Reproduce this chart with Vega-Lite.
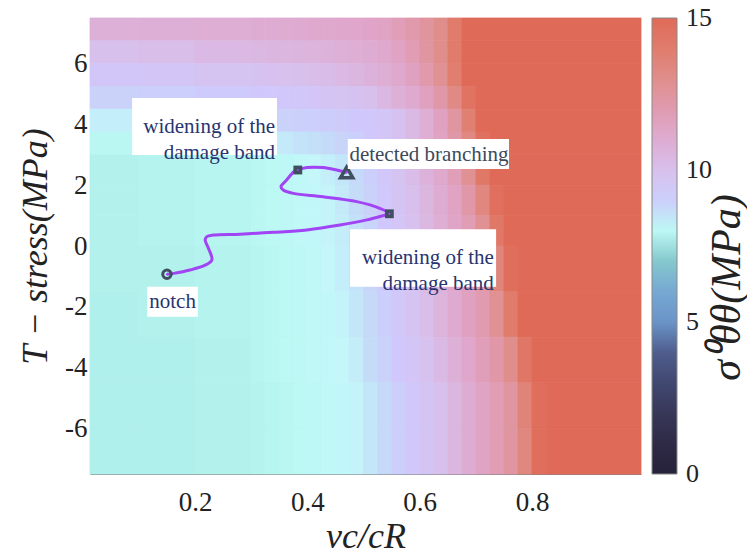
{
"$schema":"https://vega.github.io/schema/vega-lite/v6.json",
"width":551,"height":456,
"autosize":{"type":"none"},
"padding":{"left":90,"top":18,"right":106,"bottom":83},
"config":{"font":"Liberation Serif","view":{"stroke":null}},
"datasets":{
"path":[
{"i":0,"x":0.150,"y":-0.93},{"i":1,"x":0.162,"y":-0.90},{"i":2,"x":0.191,"y":-0.79},{"i":3,"x":0.218,"y":-0.63},{"i":4,"x":0.230,"y":-0.46},{"i":5,"x":0.224,"y":-0.08},{"i":6,"x":0.218,"y":0.20},{"i":7,"x":0.221,"y":0.31},{"i":8,"x":0.233,"y":0.36},{"i":9,"x":0.280,"y":0.39},{"i":10,"x":0.340,"y":0.45},{"i":11,"x":0.399,"y":0.53},{"i":12,"x":0.458,"y":0.69},{"i":13,"x":0.506,"y":0.86},{"i":14,"x":0.535,"y":1.00},{"i":15,"x":0.546,"y":1.06},{"i":16,"x":0.529,"y":1.24},{"i":17,"x":0.488,"y":1.46},{"i":18,"x":0.428,"y":1.62},{"i":19,"x":0.375,"y":1.73},{"i":20,"x":0.357,"y":1.84},{"i":21,"x":0.353,"y":1.95},{"i":22,"x":0.363,"y":2.17},{"i":23,"x":0.376,"y":2.44},{"i":24,"x":0.383,"y":2.50},{"i":25,"x":0.399,"y":2.58},{"i":26,"x":0.428,"y":2.58},{"i":27,"x":0.452,"y":2.50},{"i":28,"x":0.470,"y":2.42}
],
"markers":[
{"kind":"notch","x":0.150,"y":-0.93},{"kind":"widen","x":0.383,"y":2.50},{"kind":"widen","x":0.546,"y":1.06},{"kind":"branch","x":0.470,"y":2.42}
],
"notes":[
{"t":"widening of the\ndamage band","kind":"r","tx":0.3425,"ty":3.91,"bx0":0.088,"bx1":0.346,"by0":2.99,"by1":4.87},
{"t":"detected branching","kind":"c","tx":0.6165,"ty":2.99,"bx0":0.472,"bx1":0.759,"by0":2.53,"by1":3.52},
{"t":"widening of the\ndamage band","kind":"r","tx":0.732,"ty":-0.41,"bx0":0.476,"bx1":0.736,"by0":-1.34,"by1":0.55},
{"t":"notch","kind":"c","tx":0.160,"ty":-1.84,"bx0":0.115,"bx1":0.205,"by0":-2.33,"by1":-1.34}
]
},
"layer":[
{"data":{"values":[
{"x0":0.013,"x1":0.1,"y0":6.75,"y1":7.5,"v":10.8},{"x0":0.1,"x1":0.2,"y0":6.75,"y1":7.5,"v":10.85},{"x0":0.2,"x1":0.3,"y0":6.75,"y1":7.5,"v":10.9},
{"x0":0.3,"x1":0.325,"y0":6.75,"y1":7.5,"v":11.0},{"x0":0.325,"x1":0.35,"y0":6.75,"y1":7.5,"v":11.0},{"x0":0.35,"x1":0.375,"y0":6.75,"y1":7.5,"v":11.05},{"x0":0.375,"x1":0.4,"y0":6.75,"y1":7.5,"v":11.1},{"x0":0.4,"x1":0.425,"y0":6.75,"y1":7.5,"v":11.15},{"x0":0.425,"x1":0.45,"y0":6.75,"y1":7.5,"v":11.2},{"x0":0.45,"x1":0.475,"y0":6.75,"y1":7.5,"v":11.25},{"x0":0.475,"x1":0.5,"y0":6.75,"y1":7.5,"v":11.3},{"x0":0.5,"x1":0.525,"y0":6.75,"y1":7.5,"v":11.4},{"x0":0.525,"x1":0.55,"y0":6.75,"y1":7.5,"v":11.5},{"x0":0.55,"x1":0.575,"y0":6.75,"y1":7.5,"v":11.8},{"x0":0.575,"x1":0.6,"y0":6.75,"y1":7.5,"v":12.1},{"x0":0.6,"x1":0.625,"y0":6.75,"y1":7.5,"v":12.5},{"x0":0.625,"x1":0.65,"y0":6.75,"y1":7.5,"v":13.0},{"x0":0.65,"x1":0.675,"y0":6.75,"y1":7.5,"v":14.0},{"x0":0.675,"x1":0.994,"y0":6.75,"y1":7.5,"v":15},

{"x0":0.013,"x1":0.1,"y0":6,"y1":6.75,"v":10.0},{"x0":0.1,"x1":0.2,"y0":6,"y1":6.75,"v":10.1},{"x0":0.2,"x1":0.3,"y0":6,"y1":6.75,"v":10.3},
{"x0":0.3,"x1":0.325,"y0":6,"y1":6.75,"v":10.4},{"x0":0.325,"x1":0.35,"y0":6,"y1":6.75,"v":10.45},{"x0":0.35,"x1":0.375,"y0":6,"y1":6.75,"v":10.5},{"x0":0.375,"x1":0.4,"y0":6,"y1":6.75,"v":10.55},{"x0":0.4,"x1":0.425,"y0":6,"y1":6.75,"v":10.6},{"x0":0.425,"x1":0.45,"y0":6,"y1":6.75,"v":10.7},{"x0":0.45,"x1":0.475,"y0":6,"y1":6.75,"v":10.8},{"x0":0.475,"x1":0.5,"y0":6,"y1":6.75,"v":10.9},{"x0":0.5,"x1":0.525,"y0":6,"y1":6.75,"v":11.0},{"x0":0.525,"x1":0.55,"y0":6,"y1":6.75,"v":11.2},{"x0":0.55,"x1":0.575,"y0":6,"y1":6.75,"v":11.5},{"x0":0.575,"x1":0.6,"y0":6,"y1":6.75,"v":11.9},{"x0":0.6,"x1":0.625,"y0":6,"y1":6.75,"v":12.4},{"x0":0.625,"x1":0.65,"y0":6,"y1":6.75,"v":13.0},{"x0":0.65,"x1":0.675,"y0":6,"y1":6.75,"v":14.0},{"x0":0.675,"x1":0.994,"y0":6,"y1":6.75,"v":15},

{"x0":0.013,"x1":0.1,"y0":5.25,"y1":6,"v":9.4},{"x0":0.1,"x1":0.2,"y0":5.25,"y1":6,"v":9.5},{"x0":0.2,"x1":0.3,"y0":5.25,"y1":6,"v":9.7},
{"x0":0.3,"x1":0.325,"y0":5.25,"y1":6,"v":9.8},{"x0":0.325,"x1":0.35,"y0":5.25,"y1":6,"v":9.9},{"x0":0.35,"x1":0.375,"y0":5.25,"y1":6,"v":9.95},{"x0":0.375,"x1":0.4,"y0":5.25,"y1":6,"v":10.0},{"x0":0.4,"x1":0.425,"y0":5.25,"y1":6,"v":10.1},{"x0":0.425,"x1":0.45,"y0":5.25,"y1":6,"v":10.2},{"x0":0.45,"x1":0.475,"y0":5.25,"y1":6,"v":10.3},{"x0":0.475,"x1":0.5,"y0":5.25,"y1":6,"v":10.5},{"x0":0.5,"x1":0.525,"y0":5.25,"y1":6,"v":10.7},{"x0":0.525,"x1":0.55,"y0":5.25,"y1":6,"v":10.9},{"x0":0.55,"x1":0.575,"y0":5.25,"y1":6,"v":11.2},{"x0":0.575,"x1":0.6,"y0":5.25,"y1":6,"v":11.6},{"x0":0.6,"x1":0.625,"y0":5.25,"y1":6,"v":12.1},{"x0":0.625,"x1":0.65,"y0":5.25,"y1":6,"v":12.8},{"x0":0.65,"x1":0.675,"y0":5.25,"y1":6,"v":13.9},{"x0":0.675,"x1":0.994,"y0":5.25,"y1":6,"v":15},

{"x0":0.013,"x1":0.1,"y0":4.5,"y1":5.25,"v":8.9},{"x0":0.1,"x1":0.2,"y0":4.5,"y1":5.25,"v":9.0},{"x0":0.2,"x1":0.3,"y0":4.5,"y1":5.25,"v":9.15},
{"x0":0.3,"x1":0.325,"y0":4.5,"y1":5.25,"v":9.2},{"x0":0.325,"x1":0.35,"y0":4.5,"y1":5.25,"v":9.25},{"x0":0.35,"x1":0.375,"y0":4.5,"y1":5.25,"v":9.3},{"x0":0.375,"x1":0.4,"y0":4.5,"y1":5.25,"v":9.35},{"x0":0.4,"x1":0.425,"y0":4.5,"y1":5.25,"v":9.45},{"x0":0.425,"x1":0.45,"y0":4.5,"y1":5.25,"v":9.6},{"x0":0.45,"x1":0.475,"y0":4.5,"y1":5.25,"v":9.7},{"x0":0.475,"x1":0.5,"y0":4.5,"y1":5.25,"v":9.8},{"x0":0.5,"x1":0.525,"y0":4.5,"y1":5.25,"v":10.0},{"x0":0.525,"x1":0.55,"y0":4.5,"y1":5.25,"v":10.4},{"x0":0.55,"x1":0.575,"y0":4.5,"y1":5.25,"v":10.8},{"x0":0.575,"x1":0.6,"y0":4.5,"y1":5.25,"v":11.1},{"x0":0.6,"x1":0.625,"y0":4.5,"y1":5.25,"v":11.6},{"x0":0.625,"x1":0.65,"y0":4.5,"y1":5.25,"v":12.2},{"x0":0.65,"x1":0.675,"y0":4.5,"y1":5.25,"v":13.2},{"x0":0.675,"x1":0.7,"y0":4.5,"y1":5.25,"v":14.5},{"x0":0.7,"x1":0.994,"y0":4.5,"y1":5.25,"v":15},

{"x0":0.013,"x1":0.1,"y0":3.75,"y1":4.5,"v":8.3},{"x0":0.1,"x1":0.2,"y0":3.75,"y1":4.5,"v":8.6},{"x0":0.2,"x1":0.3,"y0":3.75,"y1":4.5,"v":8.8},
{"x0":0.3,"x1":0.325,"y0":3.75,"y1":4.5,"v":8.85},{"x0":0.325,"x1":0.35,"y0":3.75,"y1":4.5,"v":8.9},{"x0":0.35,"x1":0.375,"y0":3.75,"y1":4.5,"v":8.9},{"x0":0.375,"x1":0.4,"y0":3.75,"y1":4.5,"v":8.95},{"x0":0.4,"x1":0.425,"y0":3.75,"y1":4.5,"v":9.0},{"x0":0.425,"x1":0.45,"y0":3.75,"y1":4.5,"v":9.05},{"x0":0.45,"x1":0.475,"y0":3.75,"y1":4.5,"v":9.1},{"x0":0.475,"x1":0.5,"y0":3.75,"y1":4.5,"v":9.2},{"x0":0.5,"x1":0.525,"y0":3.75,"y1":4.5,"v":9.3},{"x0":0.525,"x1":0.55,"y0":3.75,"y1":4.5,"v":9.5},{"x0":0.55,"x1":0.575,"y0":3.75,"y1":4.5,"v":9.8},{"x0":0.575,"x1":0.6,"y0":3.75,"y1":4.5,"v":10.3},{"x0":0.6,"x1":0.625,"y0":3.75,"y1":4.5,"v":10.9},{"x0":0.625,"x1":0.65,"y0":3.75,"y1":4.5,"v":11.6},{"x0":0.65,"x1":0.675,"y0":3.75,"y1":4.5,"v":12.4},{"x0":0.675,"x1":0.7,"y0":3.75,"y1":4.5,"v":13.8},{"x0":0.7,"x1":0.994,"y0":3.75,"y1":4.5,"v":15},

{"x0":0.013,"x1":0.1,"y0":3,"y1":3.75,"v":7.95},{"x0":0.1,"x1":0.2,"y0":3,"y1":3.75,"v":8.0},{"x0":0.2,"x1":0.3,"y0":3,"y1":3.75,"v":8.1},
{"x0":0.3,"x1":0.325,"y0":3,"y1":3.75,"v":8.3},{"x0":0.325,"x1":0.35,"y0":3,"y1":3.75,"v":8.35},{"x0":0.35,"x1":0.375,"y0":3,"y1":3.75,"v":8.4},{"x0":0.375,"x1":0.4,"y0":3,"y1":3.75,"v":8.5},{"x0":0.4,"x1":0.425,"y0":3,"y1":3.75,"v":8.55},{"x0":0.425,"x1":0.45,"y0":3,"y1":3.75,"v":8.65},{"x0":0.45,"x1":0.475,"y0":3,"y1":3.75,"v":8.8},{"x0":0.475,"x1":0.5,"y0":3,"y1":3.75,"v":9.0},{"x0":0.5,"x1":0.525,"y0":3,"y1":3.75,"v":9.2},{"x0":0.525,"x1":0.55,"y0":3,"y1":3.75,"v":9.45},{"x0":0.55,"x1":0.575,"y0":3,"y1":3.75,"v":9.8},{"x0":0.575,"x1":0.6,"y0":3,"y1":3.75,"v":10.3},{"x0":0.6,"x1":0.625,"y0":3,"y1":3.75,"v":10.9},{"x0":0.625,"x1":0.65,"y0":3,"y1":3.75,"v":11.5},{"x0":0.65,"x1":0.675,"y0":3,"y1":3.75,"v":12.2},{"x0":0.675,"x1":0.7,"y0":3,"y1":3.75,"v":13.3},{"x0":0.7,"x1":0.725,"y0":3,"y1":3.75,"v":14.6},{"x0":0.725,"x1":0.994,"y0":3,"y1":3.75,"v":15},

{"x0":0.013,"x1":0.1,"y0":2,"y1":3,"v":7.8},{"x0":0.1,"x1":0.2,"y0":2,"y1":3,"v":7.85},{"x0":0.2,"x1":0.3,"y0":2,"y1":3,"v":7.9},
{"x0":0.3,"x1":0.325,"y0":2,"y1":3,"v":7.95},{"x0":0.325,"x1":0.35,"y0":2,"y1":3,"v":8.0},{"x0":0.35,"x1":0.375,"y0":2,"y1":3,"v":8.05},{"x0":0.375,"x1":0.4,"y0":2,"y1":3,"v":8.1},{"x0":0.4,"x1":0.425,"y0":2,"y1":3,"v":8.2},{"x0":0.425,"x1":0.45,"y0":2,"y1":3,"v":8.3},{"x0":0.45,"x1":0.475,"y0":2,"y1":3,"v":8.45},{"x0":0.475,"x1":0.5,"y0":2,"y1":3,"v":8.65},{"x0":0.5,"x1":0.525,"y0":2,"y1":3,"v":9.0},{"x0":0.525,"x1":0.55,"y0":2,"y1":3,"v":9.3},{"x0":0.55,"x1":0.575,"y0":2,"y1":3,"v":9.7},{"x0":0.575,"x1":0.6,"y0":2,"y1":3,"v":10.2},{"x0":0.6,"x1":0.625,"y0":2,"y1":3,"v":10.7},{"x0":0.625,"x1":0.65,"y0":2,"y1":3,"v":11.2},{"x0":0.65,"x1":0.675,"y0":2,"y1":3,"v":11.8},{"x0":0.675,"x1":0.7,"y0":2,"y1":3,"v":12.8},{"x0":0.7,"x1":0.725,"y0":2,"y1":3,"v":14.2},{"x0":0.725,"x1":0.994,"y0":2,"y1":3,"v":15},

{"x0":0.013,"x1":0.1,"y0":1,"y1":2,"v":7.8},{"x0":0.1,"x1":0.2,"y0":1,"y1":2,"v":7.85},{"x0":0.2,"x1":0.3,"y0":1,"y1":2,"v":7.9},
{"x0":0.3,"x1":0.325,"y0":1,"y1":2,"v":7.95},{"x0":0.325,"x1":0.35,"y0":1,"y1":2,"v":8.0},{"x0":0.35,"x1":0.375,"y0":1,"y1":2,"v":8.05},{"x0":0.375,"x1":0.4,"y0":1,"y1":2,"v":8.1},{"x0":0.4,"x1":0.425,"y0":1,"y1":2,"v":8.15},{"x0":0.425,"x1":0.45,"y0":1,"y1":2,"v":8.25},{"x0":0.45,"x1":0.475,"y0":1,"y1":2,"v":8.4},{"x0":0.475,"x1":0.5,"y0":1,"y1":2,"v":8.6},{"x0":0.5,"x1":0.525,"y0":1,"y1":2,"v":8.9},{"x0":0.525,"x1":0.55,"y0":1,"y1":2,"v":9.25},{"x0":0.55,"x1":0.575,"y0":1,"y1":2,"v":9.6},{"x0":0.575,"x1":0.6,"y0":1,"y1":2,"v":10.0},{"x0":0.6,"x1":0.625,"y0":1,"y1":2,"v":10.5},{"x0":0.625,"x1":0.65,"y0":1,"y1":2,"v":11.0},{"x0":0.65,"x1":0.675,"y0":1,"y1":2,"v":11.5},{"x0":0.675,"x1":0.7,"y0":1,"y1":2,"v":12.2},{"x0":0.7,"x1":0.725,"y0":1,"y1":2,"v":13.4},{"x0":0.725,"x1":0.75,"y0":1,"y1":2,"v":14.7},{"x0":0.75,"x1":0.994,"y0":1,"y1":2,"v":15},

{"x0":0.013,"x1":0.1,"y0":0,"y1":1,"v":7.8},{"x0":0.1,"x1":0.2,"y0":0,"y1":1,"v":7.85},{"x0":0.2,"x1":0.3,"y0":0,"y1":1,"v":7.9},
{"x0":0.3,"x1":0.325,"y0":0,"y1":1,"v":7.95},{"x0":0.325,"x1":0.35,"y0":0,"y1":1,"v":8.0},{"x0":0.35,"x1":0.375,"y0":0,"y1":1,"v":8.05},{"x0":0.375,"x1":0.4,"y0":0,"y1":1,"v":8.1},{"x0":0.4,"x1":0.425,"y0":0,"y1":1,"v":8.15},{"x0":0.425,"x1":0.45,"y0":0,"y1":1,"v":8.25},{"x0":0.45,"x1":0.475,"y0":0,"y1":1,"v":8.35},{"x0":0.475,"x1":0.5,"y0":0,"y1":1,"v":8.55},{"x0":0.5,"x1":0.525,"y0":0,"y1":1,"v":8.85},{"x0":0.525,"x1":0.55,"y0":0,"y1":1,"v":9.2},{"x0":0.55,"x1":0.575,"y0":0,"y1":1,"v":9.5},{"x0":0.575,"x1":0.6,"y0":0,"y1":1,"v":9.9},{"x0":0.6,"x1":0.625,"y0":0,"y1":1,"v":10.4},{"x0":0.625,"x1":0.65,"y0":0,"y1":1,"v":10.9},{"x0":0.65,"x1":0.675,"y0":0,"y1":1,"v":11.4},{"x0":0.675,"x1":0.7,"y0":0,"y1":1,"v":11.9},{"x0":0.7,"x1":0.725,"y0":0,"y1":1,"v":12.8},{"x0":0.725,"x1":0.75,"y0":0,"y1":1,"v":14.2},{"x0":0.75,"x1":0.994,"y0":0,"y1":1,"v":15},

{"x0":0.013,"x1":0.1,"y0":-1.5,"y1":0,"v":7.8},{"x0":0.1,"x1":0.2,"y0":-1.5,"y1":0,"v":7.8},{"x0":0.2,"x1":0.3,"y0":-1.5,"y1":0,"v":7.85},
{"x0":0.3,"x1":0.325,"y0":-1.5,"y1":0,"v":7.9},{"x0":0.325,"x1":0.35,"y0":-1.5,"y1":0,"v":7.95},{"x0":0.35,"x1":0.375,"y0":-1.5,"y1":0,"v":8.0},{"x0":0.375,"x1":0.4,"y0":-1.5,"y1":0,"v":8.05},{"x0":0.4,"x1":0.425,"y0":-1.5,"y1":0,"v":8.1},{"x0":0.425,"x1":0.45,"y0":-1.5,"y1":0,"v":8.2},{"x0":0.45,"x1":0.475,"y0":-1.5,"y1":0,"v":8.3},{"x0":0.475,"x1":0.5,"y0":-1.5,"y1":0,"v":8.5},{"x0":0.5,"x1":0.525,"y0":-1.5,"y1":0,"v":8.8},{"x0":0.525,"x1":0.55,"y0":-1.5,"y1":0,"v":9.1},{"x0":0.55,"x1":0.575,"y0":-1.5,"y1":0,"v":9.45},{"x0":0.575,"x1":0.6,"y0":-1.5,"y1":0,"v":9.8},{"x0":0.6,"x1":0.625,"y0":-1.5,"y1":0,"v":10.3},{"x0":0.625,"x1":0.65,"y0":-1.5,"y1":0,"v":10.8},{"x0":0.65,"x1":0.675,"y0":-1.5,"y1":0,"v":11.3},{"x0":0.675,"x1":0.7,"y0":-1.5,"y1":0,"v":11.8},{"x0":0.7,"x1":0.725,"y0":-1.5,"y1":0,"v":12.3},{"x0":0.725,"x1":0.75,"y0":-1.5,"y1":0,"v":13.5},{"x0":0.75,"x1":0.775,"y0":-1.5,"y1":0,"v":14.8},{"x0":0.775,"x1":0.994,"y0":-1.5,"y1":0,"v":15},

{"x0":0.013,"x1":0.1,"y0":-3,"y1":-1.5,"v":7.75},{"x0":0.1,"x1":0.2,"y0":-3,"y1":-1.5,"v":7.8},{"x0":0.2,"x1":0.3,"y0":-3,"y1":-1.5,"v":7.85},
{"x0":0.3,"x1":0.325,"y0":-3,"y1":-1.5,"v":7.9},{"x0":0.325,"x1":0.35,"y0":-3,"y1":-1.5,"v":7.95},{"x0":0.35,"x1":0.375,"y0":-3,"y1":-1.5,"v":8.0},{"x0":0.375,"x1":0.4,"y0":-3,"y1":-1.5,"v":8.05},{"x0":0.4,"x1":0.425,"y0":-3,"y1":-1.5,"v":8.1},{"x0":0.425,"x1":0.45,"y0":-3,"y1":-1.5,"v":8.15},{"x0":0.45,"x1":0.475,"y0":-3,"y1":-1.5,"v":8.25},{"x0":0.475,"x1":0.5,"y0":-3,"y1":-1.5,"v":8.45},{"x0":0.5,"x1":0.525,"y0":-3,"y1":-1.5,"v":8.7},{"x0":0.525,"x1":0.55,"y0":-3,"y1":-1.5,"v":9.0},{"x0":0.55,"x1":0.575,"y0":-3,"y1":-1.5,"v":9.35},{"x0":0.575,"x1":0.6,"y0":-3,"y1":-1.5,"v":9.7},{"x0":0.6,"x1":0.625,"y0":-3,"y1":-1.5,"v":10.1},{"x0":0.625,"x1":0.65,"y0":-3,"y1":-1.5,"v":10.6},{"x0":0.65,"x1":0.675,"y0":-3,"y1":-1.5,"v":11.1},{"x0":0.675,"x1":0.7,"y0":-3,"y1":-1.5,"v":11.6},{"x0":0.7,"x1":0.725,"y0":-3,"y1":-1.5,"v":12.0},{"x0":0.725,"x1":0.75,"y0":-3,"y1":-1.5,"v":12.8},{"x0":0.75,"x1":0.775,"y0":-3,"y1":-1.5,"v":14.0},{"x0":0.775,"x1":0.994,"y0":-3,"y1":-1.5,"v":15},

{"x0":0.013,"x1":0.1,"y0":-4.5,"y1":-3,"v":7.75},{"x0":0.1,"x1":0.2,"y0":-4.5,"y1":-3,"v":7.75},{"x0":0.2,"x1":0.3,"y0":-4.5,"y1":-3,"v":7.8},
{"x0":0.3,"x1":0.325,"y0":-4.5,"y1":-3,"v":7.9},{"x0":0.325,"x1":0.35,"y0":-4.5,"y1":-3,"v":7.95},{"x0":0.35,"x1":0.375,"y0":-4.5,"y1":-3,"v":8.0},{"x0":0.375,"x1":0.4,"y0":-4.5,"y1":-3,"v":8.05},{"x0":0.4,"x1":0.425,"y0":-4.5,"y1":-3,"v":8.1},{"x0":0.425,"x1":0.45,"y0":-4.5,"y1":-3,"v":8.15},{"x0":0.45,"x1":0.475,"y0":-4.5,"y1":-3,"v":8.2},{"x0":0.475,"x1":0.5,"y0":-4.5,"y1":-3,"v":8.35},{"x0":0.5,"x1":0.525,"y0":-4.5,"y1":-3,"v":8.6},{"x0":0.525,"x1":0.55,"y0":-4.5,"y1":-3,"v":8.9},{"x0":0.55,"x1":0.575,"y0":-4.5,"y1":-3,"v":9.2},{"x0":0.575,"x1":0.6,"y0":-4.5,"y1":-3,"v":9.5},{"x0":0.6,"x1":0.625,"y0":-4.5,"y1":-3,"v":9.9},{"x0":0.625,"x1":0.65,"y0":-4.5,"y1":-3,"v":10.3},{"x0":0.65,"x1":0.675,"y0":-4.5,"y1":-3,"v":10.8},{"x0":0.675,"x1":0.7,"y0":-4.5,"y1":-3,"v":11.3},{"x0":0.7,"x1":0.725,"y0":-4.5,"y1":-3,"v":11.8},{"x0":0.725,"x1":0.75,"y0":-4.5,"y1":-3,"v":12.2},{"x0":0.75,"x1":0.775,"y0":-4.5,"y1":-3,"v":13.0},{"x0":0.775,"x1":0.8,"y0":-4.5,"y1":-3,"v":14.3},{"x0":0.8,"x1":0.994,"y0":-4.5,"y1":-3,"v":15},

{"x0":0.013,"x1":0.1,"y0":-6,"y1":-4.5,"v":7.75},{"x0":0.1,"x1":0.2,"y0":-6,"y1":-4.5,"v":7.75},{"x0":0.2,"x1":0.3,"y0":-6,"y1":-4.5,"v":7.8},
{"x0":0.3,"x1":0.325,"y0":-6,"y1":-4.5,"v":7.85},{"x0":0.325,"x1":0.35,"y0":-6,"y1":-4.5,"v":7.9},{"x0":0.35,"x1":0.375,"y0":-6,"y1":-4.5,"v":7.95},{"x0":0.375,"x1":0.4,"y0":-6,"y1":-4.5,"v":8.0},{"x0":0.4,"x1":0.425,"y0":-6,"y1":-4.5,"v":8.05},{"x0":0.425,"x1":0.45,"y0":-6,"y1":-4.5,"v":8.1},{"x0":0.45,"x1":0.475,"y0":-6,"y1":-4.5,"v":8.15},{"x0":0.475,"x1":0.5,"y0":-6,"y1":-4.5,"v":8.25},{"x0":0.5,"x1":0.525,"y0":-6,"y1":-4.5,"v":8.45},{"x0":0.525,"x1":0.55,"y0":-6,"y1":-4.5,"v":8.7},{"x0":0.55,"x1":0.575,"y0":-6,"y1":-4.5,"v":9.0},{"x0":0.575,"x1":0.6,"y0":-6,"y1":-4.5,"v":9.3},{"x0":0.6,"x1":0.625,"y0":-6,"y1":-4.5,"v":9.6},{"x0":0.625,"x1":0.65,"y0":-6,"y1":-4.5,"v":10.0},{"x0":0.65,"x1":0.675,"y0":-6,"y1":-4.5,"v":10.5},{"x0":0.675,"x1":0.7,"y0":-6,"y1":-4.5,"v":11.0},{"x0":0.7,"x1":0.725,"y0":-6,"y1":-4.5,"v":11.5},{"x0":0.725,"x1":0.75,"y0":-6,"y1":-4.5,"v":11.9},{"x0":0.75,"x1":0.775,"y0":-6,"y1":-4.5,"v":12.4},{"x0":0.775,"x1":0.8,"y0":-6,"y1":-4.5,"v":13.6},{"x0":0.8,"x1":0.825,"y0":-6,"y1":-4.5,"v":14.8},{"x0":0.825,"x1":0.994,"y0":-6,"y1":-4.5,"v":15},

{"x0":0.013,"x1":0.1,"y0":-7.5,"y1":-6,"v":7.75},{"x0":0.1,"x1":0.2,"y0":-7.5,"y1":-6,"v":7.75},{"x0":0.2,"x1":0.3,"y0":-7.5,"y1":-6,"v":7.8},
{"x0":0.3,"x1":0.325,"y0":-7.5,"y1":-6,"v":7.85},{"x0":0.325,"x1":0.35,"y0":-7.5,"y1":-6,"v":7.9},{"x0":0.35,"x1":0.375,"y0":-7.5,"y1":-6,"v":7.95},{"x0":0.375,"x1":0.4,"y0":-7.5,"y1":-6,"v":8.0},{"x0":0.4,"x1":0.425,"y0":-7.5,"y1":-6,"v":8.05},{"x0":0.425,"x1":0.45,"y0":-7.5,"y1":-6,"v":8.1},{"x0":0.45,"x1":0.475,"y0":-7.5,"y1":-6,"v":8.15},{"x0":0.475,"x1":0.5,"y0":-7.5,"y1":-6,"v":8.25},{"x0":0.5,"x1":0.525,"y0":-7.5,"y1":-6,"v":8.45},{"x0":0.525,"x1":0.55,"y0":-7.5,"y1":-6,"v":8.7},{"x0":0.55,"x1":0.575,"y0":-7.5,"y1":-6,"v":9.0},{"x0":0.575,"x1":0.6,"y0":-7.5,"y1":-6,"v":9.3},{"x0":0.6,"x1":0.625,"y0":-7.5,"y1":-6,"v":9.6},{"x0":0.625,"x1":0.65,"y0":-7.5,"y1":-6,"v":10.0},{"x0":0.65,"x1":0.675,"y0":-7.5,"y1":-6,"v":10.5},{"x0":0.675,"x1":0.7,"y0":-7.5,"y1":-6,"v":11.0},{"x0":0.7,"x1":0.725,"y0":-7.5,"y1":-6,"v":11.5},{"x0":0.725,"x1":0.75,"y0":-7.5,"y1":-6,"v":11.9},{"x0":0.75,"x1":0.775,"y0":-7.5,"y1":-6,"v":12.4},{"x0":0.775,"x1":0.8,"y0":-7.5,"y1":-6,"v":13.4},{"x0":0.8,"x1":0.825,"y0":-7.5,"y1":-6,"v":14.8},{"x0":0.825,"x1":0.994,"y0":-7.5,"y1":-6,"v":15}
]},
"mark":{"type":"rect","strokeWidth":0.8},
"encoding":{
"x":{"field":"x0","type":"quantitative","scale":{"domain":[0.013,0.994],"nice":false,"zero":false},
 "axis":{"values":[0.2,0.4,0.6,0.8],"format":".1f","title":"vc/cR","titleFont":"Liberation Serif","titleFontStyle":"italic","titleFontWeight":"normal","titleFontSize":36,"titleColor":"#222","titleY":62,"titleBaseline":"middle","labelFont":"Liberation Serif","labelFontSize":27,"labelColor":"#222","labelBaseline":"middle","labelPadding":33,"tickSize":-5,"tickColor":"#999","domainColor":"#888","grid":false}},
"x2":{"field":"x1"},
"y":{"field":"y0","type":"quantitative","scale":{"domain":[-7.5,7.5],"nice":false,"zero":false},
 "axis":{"values":[-6,-4,-2,0,2,4,6],"labelExpr":"''+datum.value","title":"T − stress(MPa)","titleFont":"Liberation Serif","titleFontStyle":"italic","titleFontWeight":"normal","titleFontSize":36,"titleColor":"#222","titleAngle":270,"titleX":-55,"titleY":228,"titleAlign":"center","titleBaseline":"middle","labelFont":"Liberation Serif","labelFontSize":27,"labelColor":"#222","labelPadding":8,"tickSize":-5,"tickColor":"#999","domainColor":"#888","grid":false}},
"y2":{"field":"y1"},
"color":{"field":"v","type":"quantitative",
 "scale":{"domain":[0,1.5,3,4.1,5,5.8,6.6,7.2,7.7,8.0,8.2,8.6,9.2,10.0,10.6,11.4,12.2,13.0,14.0,15],
  "range":["#26223a","#322e4c","#404870","#505f90","#6a94c8","#74a4d4","#7cb4d0","#8ad2cc","#aeeeea","#bcf8f4","#c4f6fa","#c4dcf8","#d0c8fc","#d8c0ec","#dcb4dc","#e0a4c8","#e098a8","#e08e8c","#e07c6c","#e06a58"],"clamp":true,"interpolate":"rgb"},
 "legend":{"type":"gradient","title":null,"orient":"none","legendX":562,"legendY":0,"direction":"vertical","gradientLength":456,"gradientThickness":25,"values":[0,5,10,15],"labelFont":"Liberation Serif","labelFontSize":26,"labelColor":"#222","labelOffset":9,"gradientStrokeColor":"#888","gradientStrokeWidth":1,"padding":0,
  "encode":{"labels":{"update":{"baseline":{"value":"middle"}}}}}},
"stroke":{"field":"v","type":"quantitative",
 "scale":{"domain":[-0.001,1.5,3,4.1,5,5.8,6.6,7.2,7.7,8.0,8.2,8.6,9.2,10.0,10.6,11.4,12.2,13.0,14.0,15.001],
  "range":["#26223a","#322e4c","#404870","#505f90","#6a94c8","#74a4d4","#7cb4d0","#8ad2cc","#aeeeea","#bcf8f4","#c4f6fa","#c4dcf8","#d0c8fc","#d8c0ec","#dcb4dc","#e0a4c8","#e098a8","#e08e8c","#e07c6c","#e06a58"],"clamp":true,"interpolate":"rgb"},
 "legend":null}
}},
{"data":{"name":"path"},
"mark":{"type":"line","color":"#a044f4","strokeWidth":3,"interpolate":"catmull-rom"},
"encoding":{"x":{"field":"x","type":"quantitative"},"y":{"field":"y","type":"quantitative","axis":null},"order":{"field":"i"}}},
{"data":{"name":"markers"},"transform":[{"filter":"datum.kind==='notch'"}],"mark":{"type":"point","shape":"circle","filled":false,"size":70,"strokeWidth":3,"color":"#3f4f5f","opacity":1},
 "encoding":{"x":{"field":"x","type":"quantitative"},"y":{"field":"y","type":"quantitative","axis":null}}},
{"data":{"name":"markers"},"transform":[{"filter":"datum.kind==='widen'"}],"mark":{"type":"point","shape":"square","filled":true,"size":78,"color":"#3f4f5f","opacity":1},
 "encoding":{"x":{"field":"x","type":"quantitative"},"y":{"field":"y","type":"quantitative","axis":null}}},
{"data":{"name":"markers"},"transform":[{"filter":"datum.kind==='branch'"}],"mark":{"type":"point","shape":"triangle-up","filled":false,"size":150,"strokeWidth":3.5,"color":"#3f4f5f","opacity":1},
 "encoding":{"x":{"field":"x","type":"quantitative"},"y":{"field":"y","type":"quantitative","axis":null}}},
{"data":{"name":"markers"},"mark":{"type":"point","shape":"circle","filled":true,"size":5,"color":"#a044f4","opacity":1},
 "encoding":{"x":{"field":"x","type":"quantitative"},"y":{"field":"y","type":"quantitative","axis":null}}},
{"data":{"name":"notes"},"mark":{"type":"rect","color":"#ffffff","opacity":1},
 "encoding":{"x":{"field":"bx0","type":"quantitative"},"x2":{"field":"bx1"},"y":{"field":"by0","type":"quantitative","axis":null},"y2":{"field":"by1"}}},
{"data":{"name":"notes"},"transform":[{"filter":"datum.kind==='r'"}],"mark":{"type":"text","align":"right","baseline":"middle","lineBreak":"\n","lineHeight":26,"fontSize":21,"font":"Liberation Serif","color":"#283470"},
 "encoding":{"x":{"field":"tx","type":"quantitative"},"y":{"field":"ty","type":"quantitative","axis":null},"text":{"field":"t"}}},
{"data":{"name":"notes"},"transform":[{"filter":"datum.kind==='c'"}],"mark":{"type":"text","align":"center","baseline":"middle","fontSize":21,"font":"Liberation Serif"},
 "encoding":{"x":{"field":"tx","type":"quantitative"},
  "y":{"field":"ty","type":"quantitative","axis":{"orient":"right","title":"σ⁰θθ(MPa)","labels":false,"ticks":false,"domain":false,"grid":false,"titleFont":"Liberation Serif","titleFontStyle":"italic","titleFontWeight":"normal","titleFontSize":42,"titleColor":"#222","titleAngle":270,"titleX":85,"titleY":269,"titleAlign":"center","titleBaseline":"middle"}},
  "text":{"field":"t"},
  "color":{"condition":{"test":"datum.t==='detected branching'","value":"#3c4a5a"},"value":"#283470"}}}
],
"resolve":{"axis":{"y":"independent"}}
}
